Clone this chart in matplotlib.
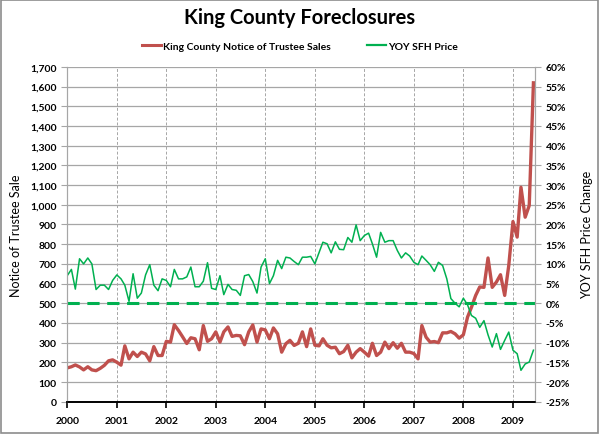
import numpy as np
import pandas as pd
import matplotlib
matplotlib.use("Agg")
import matplotlib.pyplot as plt
import matplotlib.dates as mdates
from matplotlib.ticker import FuncFormatter, MultipleLocator
from matplotlib.lines import Line2D
from matplotlib.patches import Rectangle

plt.rcParams['font.family'] = ['Lato', 'DejaVu Sans']

# monthly, Jan 2000 - Jun 2009
months = pd.date_range("2000-01-01", periods=114, freq="MS")

# King County Notice of Trustee Sales (left axis)
trustee_sales = [
    172, 178, 187, 177, 162, 178, 162, 158, 170, 185, 208, 213,
    201, 186, 284, 218, 252, 230, 252, 243, 208, 280, 235, 235,
    307, 303, 391, 362, 330, 296, 325, 320, 264, 387, 307, 320,
    355, 303, 355, 380, 332, 337,
    335, 290, 355, 390, 303, 370,
    365, 320, 375, 345, 252, 295, 312, 286, 297, 355, 280, 370,
    287, 284, 320, 287, 274, 277, 244, 255, 287, 223, 252, 270,
    252, 232, 297, 235, 252, 303, 270, 300, 272, 297, 252, 252,
    245, 218, 387, 328, 303, 306, 300, 350, 350, 357, 345, 323,
    340, 430, 480, 540, 583, 581, 730, 581, 608, 645, 540, 692,
    915, 836, 1089, 937, 996, 1619,
]

# YOY SFH price change, percent (right axis)
yoy_price = [
    7.0, 8.6, 3.6, 11.3, 10.0, 11.5, 10.0, 3.5, 4.6, 4.6, 3.5, 5.8,
    7.2, 6.2, 4.6, 0.5, 7.5, 1.3, 2.6, 7.2, 9.8, 4.6, 3.2, 6.2,
    5.8, 4.2, 8.6, 6.2, 6.2, 6.7, 9.2, 4.2, 4.2, 5.6, 10.3, 3.8,
    3.5, 7.0, 2.2, 4.8, 3.5, 3.3, 2.0,
    7.0, 7.3, 5.5, 2.6, 9.2,
    11.3, 5.0, 7.0, 10.9, 8.8, 11.7, 11.5, 10.6, 9.8, 11.7, 11.7, 11.9,
    10.0, 12.9, 15.5, 15.1, 12.8, 15.6, 13.7, 13.6, 16.7, 15.5, 19.9, 15.9,
    17.2, 17.8, 15.1, 11.7, 18.0, 15.5, 15.9, 15.9, 13.4, 11.5, 12.8, 12.0,
    10.4, 9.8, 12.0, 10.9, 9.8, 8.1, 10.4, 9.6, 6.2, 1.2, 0.0, -0.9,
    1.3, -0.4, -3.1, -3.8, -6.1, -4.4, -8.0, -11.1, -7.7, -11.7, -9.4, -7.3,
    -11.9, -12.8, -17.0, -15.4, -14.9, -11.9,
]

red = "#C0504D"
green = "#00B050"

fig = plt.figure(figsize=(6.0, 4.35), dpi=100)
fig.patches.append(Rectangle((0.002, 0.003), 0.994, 0.994, transform=fig.transFigure,
                             fill=False, edgecolor="#8c8c8c", linewidth=1.2))

ax = fig.add_axes([0.112, 0.074, 0.780, 0.770])
ax2 = ax.twinx()

ax.plot(months, trustee_sales, color=red, linewidth=2.4, solid_joinstyle="round")
ax2.plot(months, yoy_price, color=green, linewidth=1.1)
ax2.axhline(0, color=green, linewidth=2.2, linestyle=(0, (4, 2.5)))

ax.set_ylim(0, 1700)
ax2.set_ylim(-25, 60)
ax.set_xlim(pd.Timestamp("2000-01-01"), pd.Timestamp("2009-06-14"))

ax.yaxis.set_major_locator(MultipleLocator(100))
ax.yaxis.set_major_formatter(FuncFormatter(lambda v, p: f"{int(v):,}"))
ax2.yaxis.set_major_locator(MultipleLocator(5))
ax2.yaxis.set_major_formatter(FuncFormatter(lambda v, p: f"{int(v)}%"))
ax.xaxis.set_major_locator(mdates.YearLocator())
ax.xaxis.set_major_formatter(mdates.DateFormatter("%Y"))

ax.grid(axis="y", color="#a6a6a6", linewidth=0.9)
ax.grid(axis="x", color="#a6a6a6", linewidth=0.7, linestyle=(0, (3, 2)))
ax.set_axisbelow(True)

for a in (ax, ax2):
    a.spines["top"].set_visible(False)
    a.spines["left"].set_color("#a6a6a6")
    a.spines["right"].set_color("#a6a6a6")
    a.spines["bottom"].set_color("black")
    a.spines["bottom"].set_linewidth(1.2)
    a.tick_params(axis="y", length=4, color="#a6a6a6", labelsize=7.5)
    for lbl in a.get_yticklabels():
        lbl.set_fontweight("bold")
ax.tick_params(axis="x", length=4, width=1.2, color="black", labelsize=7.5, pad=6)
for lbl in ax.get_xticklabels():
    lbl.set_fontweight("bold")

ax.set_ylabel("Notice of Trustee Sale", fontsize=9, labelpad=6)
ax2.set_ylabel("YOY SFH Price Change", fontsize=9, labelpad=8)

fig.text(0.5, 0.958, "King County Foreclosures", ha="center", va="center",
         fontsize=14.5, fontweight="bold")

handles = [Line2D([], [], color=red, linewidth=2.2),
           Line2D([], [], color=green, linewidth=1.6)]
fig.legend(handles, ["King County Notice of Trustee Sales", "YOY SFH Price"],
           loc="center", bbox_to_anchor=(0.5, 0.892), ncol=2, frameon=False,
           prop={"size": 7.5, "weight": "bold"}, handlelength=1.8, handletextpad=0.2,
           columnspacing=3.5)

fig.savefig("out.png", dpi=100)
